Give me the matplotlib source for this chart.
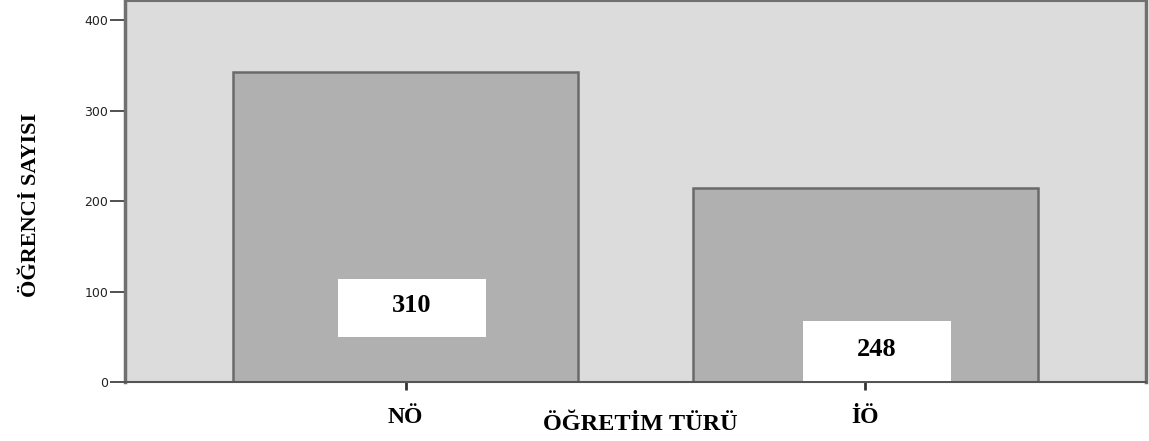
import matplotlib
matplotlib.use("Agg")
import matplotlib.pyplot as plt

categories = ["NÖ", "İÖ"]
bar_heights = [342, 214]
label_texts = ["310", "248"]
yticks = [0, 100, 200, 300, 400]

fig = plt.figure(figsize=(11.49, 4.41), dpi=100)
ax = fig.add_axes([125/1149, 1 - 382/441, 1021/1149, 381/441])
ax.set_facecolor("#dcdcdc")

x = list(range(len(categories)))
ax.bar(x, bar_heights, width=0.75, color="#b0b0b0", edgecolor="#6a6a6a", linewidth=1.8, zorder=2)

ax.set_xlim(-0.61, 1.61)
ax.set_ylim(0, 421)
ax.set_yticks(yticks)
ax.set_yticklabels([str(v) for v in yticks], fontsize=9, family="DejaVu Sans", color="#222222")
ax.tick_params(axis="y", length=11, width=1.2, color="#333333", pad=1)
ax.set_xticks(x)
ax.set_xticklabels([])
ax.tick_params(axis="x", length=6, width=2, color="#333333")

for s in ax.spines.values():
    s.set_color("#707070")
ax.spines["left"].set_linewidth(2.5)
ax.spines["right"].set_linewidth(2.5)
ax.spines["top"].set_linewidth(1.5)
ax.spines["bottom"].set_linewidth(1.5)
ax.spines["bottom"].set_color("#555555")


def px_to_y(py):
    return (382 - py) / 381 * 421


def px_to_x(px):
    return -0.61 + (px - 125) / 1021 * 2.22


boxes = [(338, 486, 279, 337), (803, 951, 321, 381)]
text_pos = [(412, 306), (877, 349)]
for (l, r, t, b), (tx, ty), txt in zip(boxes, text_pos, label_texts):
    x0, x1 = px_to_x(l), px_to_x(r)
    y0, y1 = px_to_y(b), px_to_y(t)
    ax.add_patch(plt.Rectangle((x0, y0), x1 - x0, y1 - y0, facecolor="white", edgecolor="none", zorder=3))
    ax.text(px_to_x(tx), px_to_y(ty), txt, ha="center", va="center", fontsize=19,
            fontweight="bold", family="Liberation Serif", zorder=4)

for xi, c in zip(x, categories):
    ax.text(xi, -0.065, c, transform=ax.get_xaxis_transform(), ha="center", va="top",
            fontsize=17, fontweight="bold", family="Liberation Serif")

fig.text(640/1149, 1 - 424/441, "ÖĞRETİM TÜRÜ", ha="center", va="center", fontsize=17.5,
         fontweight="bold", family="Liberation Serif")
fig.text(31/1149, 1 - 205/441, "ÖĞRENCİ SAYISI", ha="center", va="center", rotation=90,
         fontsize=16, fontweight="bold", family="Liberation Serif")

fig.savefig("out.png", dpi=100)
